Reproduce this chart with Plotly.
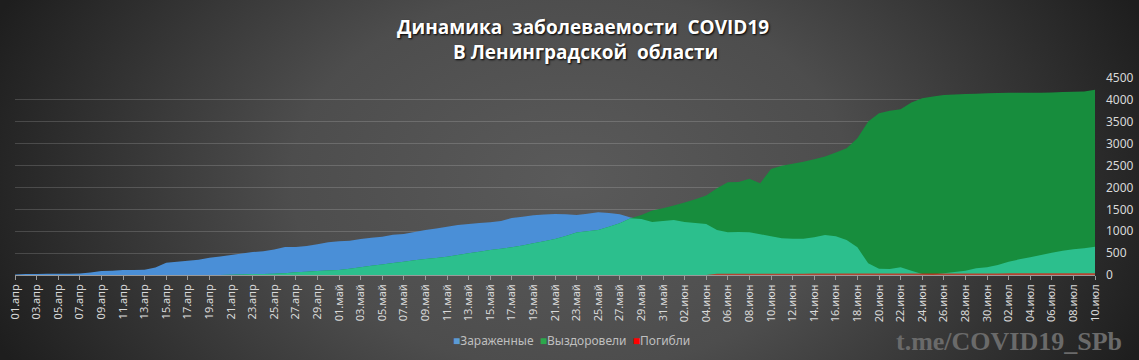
import base64
import plotly.graph_objects as go

months = ["апр"] * 30 + ["май"] * 31 + ["июн"] * 30 + ["июл"] * 10
days = list(range(1, 31)) + list(range(1, 32)) + list(range(1, 31)) + list(range(1, 11))
dates = [f"{d:02d}.{m}" for d, m in zip(days, months)]

infected = [
    10, 20, 25, 28, 30, 30, 32, 55, 90, 95,
    112, 115, 118, 170, 280, 300, 325, 350, 395, 420,
    455, 490, 525, 545, 585, 640, 642, 665, 700, 750,
    770, 785, 820, 850, 875, 920, 935, 985, 1030, 1065,
    1105, 1140, 1165, 1185, 1205, 1235, 1300, 1330, 1365, 1380,
    1395, 1385, 1372, 1400, 1433, 1415, 1387, 1311, 1280, 1212,
    1235, 1258, 1212, 1190, 1166, 1029, 975, 985, 975, 930,
    885, 840, 827, 827, 861, 915, 884, 800, 633, 267,
    140, 137, 175, 99, 20, 10, 40, 68, 99, 152,
    175, 229, 305, 358, 404, 457, 511, 556, 587, 610,
    648,
]
recovered = [
    0, 0, 0, 0, 0, 0, 0, 0, 0, 0,
    0, 0, 0, 0, 0, 0, 0, 0, 0, 0,
    5, 12, 20, 25, 30, 40, 60, 75, 90, 100,
    115, 140, 175, 210, 240, 275, 305, 335, 366, 390,
    419, 455, 495, 530, 572, 600, 633, 675, 724, 770,
    823, 890, 968, 1000, 1029, 1100, 1181, 1296, 1372, 1471,
    1524, 1590, 1654, 1730, 1814, 1982, 2119, 2127, 2196, 2097,
    2420, 2493, 2539, 2585, 2646, 2707, 2798, 2897, 3125, 3506,
    3697, 3750, 3788, 3941, 4040, 4078, 4109, 4124, 4132, 4140,
    4150, 4155, 4162, 4162, 4162, 4165, 4170, 4180, 4185, 4190,
    4231,
]
deaths = [0] * 65 + [
    28, 28, 29, 29, 30, 30, 31, 31, 31, 32,
    32, 32, 33, 33, 33, 34, 34, 34, 35, 35,
    35, 36, 36, 36, 37, 37, 37, 38, 38, 38,
    39, 39, 39, 40, 40, 40,
]
overlap = [min(a, b) for a, b in zip(infected, recovered)]

series_names = ["Зараженные", "Выздоровели", "Погибли"]
legend_colors = ["#5b9bd5", "#2ca84c", "#ff0000"]
y_ticks = list(range(0, 5000, 500))
x_ticks = dates[::2]

C_BLUE = "#4a8fd7"
C_GREEN = "#178d3d"
C_TEAL = "#2cbf8d"
C_RED = "rgba(255,0,0,0.65)"

fig = go.Figure()
fig.add_trace(go.Scatter(x=dates, y=infected, name=series_names[0], mode="none",
                         fill="tozeroy", fillcolor=C_BLUE, hoverinfo="skip"))
fig.add_trace(go.Scatter(x=dates, y=recovered, name=series_names[1], mode="none",
                         fill="tozeroy", fillcolor=C_GREEN, hoverinfo="skip"))
fig.add_trace(go.Scatter(x=dates, y=overlap, name="overlap", mode="none",
                         fill="tozeroy", fillcolor=C_TEAL, hoverinfo="skip"))
fig.add_trace(go.Scatter(x=dates, y=deaths, name=series_names[2], mode="none",
                         fill="tozeroy", fillcolor=C_RED, hoverinfo="skip"))

W, H = 1139, 360
L, R, T, B = 15, 44, 78, 85
pw, ph = W - L - R, H - T - B


def px_x(x):
    return (x - L) / pw


def px_y(y):
    return (T + ph - y) / ph


svg = f'''<svg xmlns="http://www.w3.org/2000/svg" width="{W}" height="{H}" viewBox="0 0 {W} {H}">
<defs><radialGradient id="g" gradientUnits="userSpaceOnUse" cx="570" cy="180" r="620"
 gradientTransform="translate(570 180) scale(1 0.68) translate(-570 -180)">
<stop offset="0" stop-color="#5a5a5a"/><stop offset="0.45" stop-color="#4d4d4d"/>
<stop offset="1" stop-color="#1e1e1e"/></radialGradient></defs>
<rect width="{W}" height="{H}" fill="url(#g)"/></svg>'''
src = "data:image/svg+xml;base64," + base64.b64encode(svg.encode()).decode()

legend_text = "  ".join(
    f"<span style='color:{c}'>■</span>{n}" for n, c in zip(series_names, legend_colors)
)

title_font = dict(family="Open Sans", size=19, color="#ffffff", weight="bold",
                  shadow="1px 1px 2px #000")

fig.update_layout(
    width=W, height=H,
    margin=dict(l=L, r=R, t=T, b=B),
    paper_bgcolor="#2a2a2a",
    plot_bgcolor="rgba(0,0,0,0)",
    images=[dict(source=src, xref="paper", yref="paper",
                 x=-L / pw, y=1 + T / ph, sizex=W / pw, sizey=H / ph,
                 sizing="stretch", xanchor="left", yanchor="top", layer="below")],
    font=dict(family="Noto Sans", color="#d9d9d9"),
    showlegend=False,
    xaxis=dict(type="category", range=[0, len(dates) - 1],
               tickmode="array", tickvals=x_ticks, ticktext=x_ticks,
               tickangle=-90, tickfont=dict(size=11, color="#d9d9d9"),
               ticks="outside", ticklen=4, tickcolor="#9a9a9a",
               showline=True, linecolor="#9a9a9a", linewidth=1,
               showgrid=False, zeroline=False, fixedrange=True, automargin=False),
    yaxis=dict(side="right", range=[0, 4500], tickvals=y_ticks,
               tickfont=dict(size=12, color="#d9d9d9"),
               showgrid=True, gridcolor="rgba(255,255,255,0.16)", gridwidth=1,
               zeroline=False, ticks="", ticklabelstandoff=10, fixedrange=True,
               automargin=False),
    annotations=[
        dict(text="Динамика  заболеваемости  COVID19", xref="paper", yref="paper",
             x=px_x(583), xanchor="center", y=px_y(27), yanchor="middle",
             showarrow=False, font=title_font),
        dict(text="В Ленинградской  области", xref="paper", yref="paper",
             x=px_x(585), xanchor="center", y=px_y(52), yanchor="middle",
             showarrow=False, font=title_font),
        dict(text=legend_text, xref="paper", yref="paper",
             x=px_x(571), xanchor="center", y=px_y(340), yanchor="middle",
             showarrow=False, font=dict(family="Noto Sans", size=12, color="#bfbfbf")),
        dict(text="<b>t.me/COVID19_SPb</b>", xref="paper", yref="paper",
             x=px_x(1124), xanchor="right", y=px_y(341), yanchor="middle",
             showarrow=False,
             font=dict(family="Liberation Serif", size=26, color="#6a6a6a")),
    ],
)

fig.write_html(
    "out.html",
    config={"displayModeBar": False},
    post_script="document.body.style.margin='0';document.body.style.overflow='hidden';",
)
